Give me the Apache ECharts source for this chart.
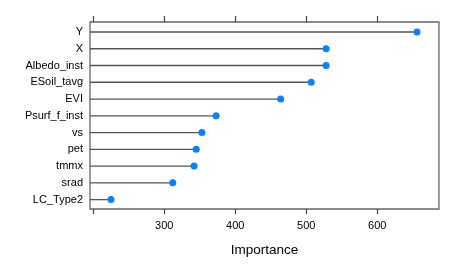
<!DOCTYPE html>
<html><head><meta charset="utf-8">
<script src="https://cdn.jsdelivr.net/npm/echarts@6/dist/echarts.min.js"></script>
<style>html,body{margin:0;padding:0;background:#fff}#c{width:468px;height:266px}</style>
</head><body><div id="c"></div>
<script>
var categories = ["Y","X","Albedo_inst","ESoil_tavg","EVI","Psurf_f_inst","vs","pet","tmmx","srad","LC_Type2"];
var importance = [656, 528, 528, 507, 464, 373, 353, 345, 342, 312, 225];
var tickValues = [200, 300, 400, 500, 600];
var tickLabels = [300, 400, 500, 600];

var chart = echarts.init(document.getElementById('c'), null, {renderer:'canvas'});
var font = '"Liberation Sans", Arial, sans-serif';
var data = importance.map(function(v,i){return [v, categories[i]];});
chart.setOption({
  animation:false,
  grid:{left:90, right:29, top:23.6, bottom:58, show:false},
  graphic:[{type:'rect', shape:{x:90, y:22, width:349, height:187},
    style:{fill:'none', stroke:'#666', lineWidth:1.3}, z:0}],
  xAxis:[{
    type:'value', min:195.4, max:687, position:'bottom', offset:1,
    axisLine:{show:false}, splitLine:{show:false},
    axisTick:{show:true, customValues:tickValues, length:5, lineStyle:{color:'#444', width:1.2}},
    axisLabel:{customValues:tickLabels, fontFamily:font, fontSize:11, color:'#000', margin:11},
    name:'Importance', nameLocation:'middle', nameGap:34,
    nameTextStyle:{fontFamily:font, fontSize:13.5, color:'#000'}
  },{
    type:'value', min:195.4, max:687, position:'top', offset:1.6,
    axisLine:{show:false}, splitLine:{show:false},
    axisTick:{show:true, customValues:tickValues, length:6, lineStyle:{color:'#444', width:1.2}},
    axisLabel:{show:false}
  }],
  yAxis:{
    type:'category', data:categories, inverse:true,
    axisLine:{show:false}, axisTick:{show:false}, splitLine:{show:false},
    axisLabel:{fontFamily:font, fontSize:11, color:'#000', margin:7}
  },
  series:[{
    type:'custom',
    data:data,
    renderItem:function(params, api){
      var p = api.coord([api.value(0), api.value(1)]);
      var x0 = params.coordSys.x;
      return {type:'line', shape:{x1:x0, y1:p[1], x2:p[0], y2:p[1]},
        style:{stroke:'#555', lineWidth:1.3}};
    },
    encode:{x:0, y:1}, z:1
  },{
    type:'scatter', data:data, symbolSize:7,
    itemStyle:{color:'#0a80ff', opacity:1}, z:3
  }]
});
</script></body></html>
